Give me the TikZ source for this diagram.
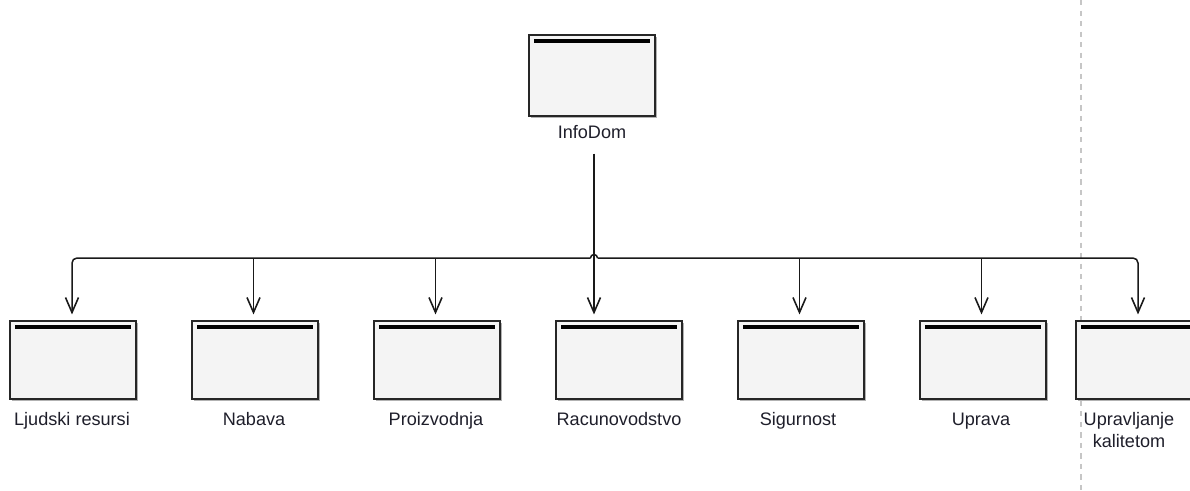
\documentclass[tikz,border=0pt]{standalone}
\usepackage{fontspec}
\setmainfont{Liberation Sans}
\usepackage{tikz}
\usetikzlibrary{arrows.meta,shadows}
\definecolor{okvir}{HTML}{F4F4F4}
\definecolor{tekst}{HTML}{1E1E2A}
\tikzstyle{modul}=[draw=black!85,line width=0.6pt,fill=okvir,minimum width=2.52cm,minimum height=1.56cm,inner sep=0pt,
  drop shadow={shadow xshift=0.03cm,shadow yshift=-0.03cm,fill=black!30,opacity=1}]
\tikzstyle{naziv}=[inner sep=0pt,text=tekst,font=\fontsize{10.3}{12.5}\selectfont,align=center,anchor=base]
\tikzstyle{traka}=[line width=0.08cm]
\tikzstyle{veza}=[line width=0.03cm,black!90,shorten >=0.12cm,arrows={-Straight Barb[length=0.3cm,width=0.26cm,line width=0.9pt]}]

\begin{document}
\begin{tikzpicture}
    \useasboundingbox (0,0) rectangle (23.8,-9.8);
    \clip (0,0) rectangle (23.8,-9.8);
    % granica
    \draw [gray!45,dashed,line width=0.6pt] (21.62,0) -- (21.62,-9.8);
    % vrh
    \node [modul,minimum height=1.62cm] (infodom) at (11.84,-1.51) {};
    \node [naziv] (l0) at (11.84,-2.76) {InfoDom};
    % moduli
    \node [modul] (m1) at (1.46,-7.2) {};
    \node [modul] (m2) at (5.10,-7.2) {};
    \node [modul] (m3) at (8.74,-7.2) {};
    \node [modul] (m4) at (12.38,-7.2) {};
    \node [modul] (m5) at (16.02,-7.2) {};
    \node [modul] (m6) at (19.66,-7.2) {};
    \node [modul] (m7) at (22.78,-7.2) {};
    \foreach \m in {infodom,m1,m2,m3,m4,m5,m6,m7}
        \draw [traka] ([shift={(0.12,-0.14)}]\m.north west) -- ([shift={(-0.12,-0.14)}]\m.north east);
    \node [naziv] (l1) at (1.44,-8.5) {Ljudski resursi};
    \node [naziv] (l2) at (5.08,-8.5) {Nabava};
    \node [naziv] (l3) at (8.72,-8.5) {Proizvodnja};
    \node [naziv] (l4) at (12.38,-8.5) {Racunovodstvo};
    \node [naziv] (l5) at (15.96,-8.5) {Sigurnost};
    \node [naziv] (l6) at (19.62,-8.5) {Uprava};
    \node [naziv] (l7) at (22.58,-8.5) {Upravljanje};
    \node [naziv] (l8) at (22.58,-8.94) {kalitetom};
    % veze
    \coordinate (bus) at (0,-5.16);
    \coordinate (spoj) at ([xshift=0.04cm,yshift=-0.3cm]l0.south);
    \coordinate (hopL) at ([xshift=-0.07cm]spoj |- bus);
    \coordinate (hopR) at ([xshift=0.07cm]spoj |- bus);
    \draw [veza] (spoj) -- (spoj |- m4.north);
    \draw [veza,rounded corners=0.1cm] (hopL) -| ([xshift=-0.02cm]m1.north);
    \draw [veza,rounded corners=0.1cm] (hopR) -| ([xshift=-0.02cm]m7.north);
    \draw [line width=0.03cm,black!90] (hopL) arc[start angle=180,end angle=0,radius=0.07cm];
    \foreach \m in {m2,m3,m5,m6}
        \draw [veza] ([xshift=-0.03cm]\m.north |- bus) -- ([xshift=-0.03cm]\m.north);
\end{tikzpicture}
\end{document}
